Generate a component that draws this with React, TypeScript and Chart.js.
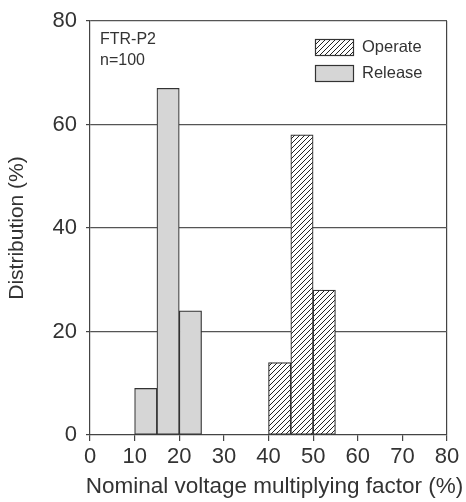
import React, { useEffect, useRef } from "react";
import { Chart, registerables } from "chart.js";

Chart.register(...registerables);

const releaseBins = [12.5, 17.5, 22.5];
const releaseValues = [9, 67, 24];
const operateBins = [42.5, 47.5, 52.5];
const operateValues = [14, 58, 28];
const seriesLabels = ["Operate", "Release"];
const annotationLines = ["FTR-P2", "n=100"];
const xTitle = "Nominal voltage multiplying factor (%)";
const yTitle = "Distribution (%)";
const xRange = [0, 80];
const yRange = [0, 80];
const xStep = 10;
const yStep = 20;

const FONT = "'Liberation Sans', Arial, sans-serif";
const INK = "#333";
const RELEASE_FILL = "#d6d6d6";

function makeHatch(): CanvasPattern | string {
  const pc = document.createElement("canvas");
  const s = 5;
  pc.width = s;
  pc.height = s;
  const c = pc.getContext("2d");
  if (!c) return "#fff";
  c.fillStyle = "#fff";
  c.fillRect(0, 0, s, s);
  c.strokeStyle = "#222";
  c.lineWidth = 1;
  c.beginPath();
  c.moveTo(0, s);
  c.lineTo(s, 0);
  c.moveTo(-1, 1);
  c.lineTo(1, -1);
  c.moveTo(s - 1, s + 1);
  c.lineTo(s + 1, s - 1);
  c.stroke();
  const p = c.createPattern(pc, "repeat");
  return p || "#fff";
}

export default function App() {
  const ref = useRef<HTMLCanvasElement | null>(null);

  useEffect(() => {
    document.body.style.margin = "0";
    const canvas = ref.current;
    if (!canvas) return;
    const hatch = makeHatch();

    const overlay = {
      id: "overlay",
      afterDraw(chart: any) {
        const ctx = chart.ctx;
        const area = chart.chartArea;
        ctx.save();
        ctx.fillStyle = INK;
        ctx.font = `16px ${FONT}`;
        ctx.textAlign = "left";
        ctx.textBaseline = "middle";
        annotationLines.forEach((t, i) => ctx.fillText(t, area.left + 10, area.top + 19 + i * 21));
        const fills = [hatch, RELEASE_FILL];
        chart.data.datasets.forEach((ds: any, i: number) => {
          const y = area.top + 18 + i * 26;
          ctx.fillStyle = fills[i];
          ctx.fillRect(315, y, 38, 16);
          ctx.strokeStyle = INK;
          ctx.lineWidth = 1.2;
          ctx.strokeRect(315.5, y + 0.5, 38, 16);
          ctx.fillStyle = INK;
          ctx.font = `16.5px ${FONT}`;
          ctx.fillText(ds.label, 362, y + 8);
        });
        // x axis title (wider than the plot area in the original)
        ctx.font = `22.5px ${FONT}`;
        ctx.textAlign = "center";
        ctx.fillText(xTitle, (area.left + area.right) / 2 + 6, 487);
        ctx.restore();
      },
    };

    const chart = new Chart(canvas, {
      type: "bar",
      data: {
        datasets: [
          {
            label: seriesLabels[0],
            data: operateBins.map((x, i) => ({ x, y: operateValues[i] })),
            backgroundColor: hatch as any,
            borderColor: INK,
            borderWidth: 1.2,
            borderSkipped: false,
          },
          {
            label: seriesLabels[1],
            data: releaseBins.map((x, i) => ({ x, y: releaseValues[i] })),
            backgroundColor: RELEASE_FILL,
            borderColor: INK,
            borderWidth: 1.2,
            borderSkipped: false,
          },
        ],
      },
      plugins: [overlay],
      options: {
        responsive: false,
        animation: false,
        grouped: false,
        barPercentage: 1,
        categoryPercentage: 1,
        layout: { padding: { top: 21, right: 19, left: 0, bottom: 0 } },
        plugins: {
          legend: { display: false },
          tooltip: { enabled: false },
        },
        scales: {
          x: {
            type: "linear",
            min: xRange[0],
            max: xRange[1],
            offset: false,
            afterFit: (s: any) => {
              s.height = 67;
              s.paddingLeft = 0;
              s.paddingRight = 0;
            },
            ticks: {
              stepSize: xStep,
              font: { family: FONT, size: 22 },
              color: INK,
              padding: 3,
            },
            grid: {
              offset: false,
              color: (c: any) => (c.tick && c.tick.value === xRange[1] ? "#444" : "rgba(0,0,0,0)"),
              tickColor: "#444",
              tickLength: 6,
              lineWidth: 1.2,
            },
            border: { display: true, color: "#444", width: 1.2 },
            title: { display: false },
          },
          y: {
            min: yRange[0],
            max: yRange[1],
            afterFit: (s: any) => {
              s.width = 90;
              s.paddingTop = 0;
              s.paddingBottom = 0;
            },
            ticks: {
              stepSize: yStep,
              font: { family: FONT, size: 22 },
              color: INK,
              padding: 9,
            },
            grid: {
              color: (c: any) => (c.tick && c.tick.value === yRange[0] ? "rgba(0,0,0,0)" : "#555"),
              tickColor: "#444",
              tickLength: 4,
              lineWidth: 1.2,
            },
            border: { display: true, color: "#444", width: 1.2 },
            title: {
              display: true,
              text: yTitle,
              font: { family: FONT, size: 21 },
              color: INK,
              padding: { top: 5, bottom: 0 },
            },
          },
        },
      } as any,
    });

    return () => chart.destroy();
  }, []);

  return (
    <div style={{ width: 466, height: 502 }}>
      <canvas ref={ref} width={466} height={502} />
    </div>
  );
}
